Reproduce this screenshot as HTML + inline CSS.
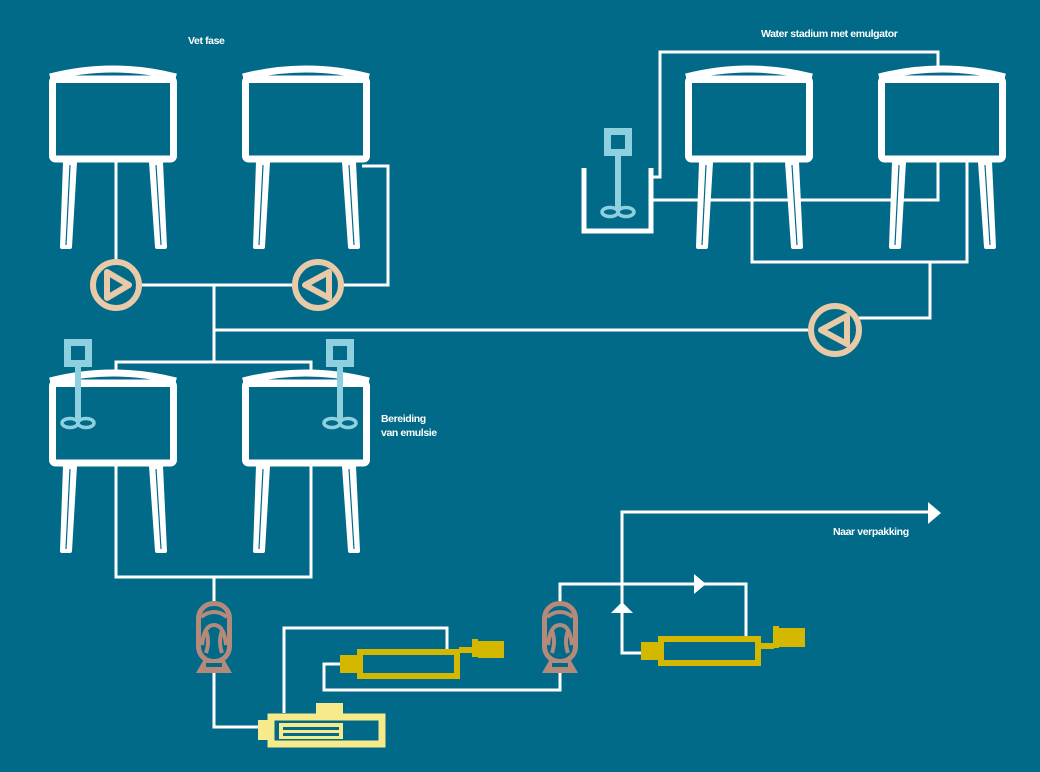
<!DOCTYPE html>
<html><head><meta charset="utf-8"><style>
html,body{margin:0;padding:0;background:#006a88;}
svg{display:block}
text{font-family:"Liberation Sans",sans-serif;font-weight:bold;font-size:10.5px;fill:#fff;letter-spacing:-0.4px}
</style></head><body>
<svg width="1040" height="772" viewBox="0 0 1040 772" xmlns="http://www.w3.org/2000/svg">
<defs>
<g id="tank">
  <path d="M1,10 Q64,-6 127,10" fill="none" stroke="#fff" stroke-width="7"/>
  <path d="M1,10 L1,16 L127,16 L127,10" fill="#fff"/>
  <rect x="3.5" y="12" width="121" height="80" rx="3" fill="none" stroke="#fff" stroke-width="7"/>
  <polygon points="16,95 26,95 21,180 13,180" fill="#fff" stroke="#fff" stroke-width="4" stroke-linejoin="round"/>
  <line x1="21" y1="98" x2="17" y2="178" stroke="#006a88" stroke-width="1.2"/>
  <polygon points="102,95 112,95 116,180 108,180" fill="#fff" stroke="#fff" stroke-width="4" stroke-linejoin="round"/>
  <line x1="107" y1="98" x2="112" y2="178" stroke="#006a88" stroke-width="1.2"/>
</g>
<g id="homog">
  <rect x="2.5" y="2.5" width="31" height="58" rx="15" fill="none" stroke="#b58a7a" stroke-width="5"/>
  <path d="M5,16 Q18,6 31,16 M6,44 Q8,24 18,24 Q28,24 30,44 M10,30 Q14,40 10,52 M26,30 Q22,40 26,52" fill="none" stroke="#b58a7a" stroke-width="4"/>
  <polygon points="8,58 28,58 36,72 0,72" fill="#b58a7a"/>
  <rect x="10" y="62" width="16" height="4" fill="#006a88"/>
</g>
<g id="agit">
  <rect x="3.5" y="3.5" width="21" height="21" fill="none" stroke="#8fd0e0" stroke-width="7"/>
  <rect x="11" y="27" width="6" height="55" fill="#8fd0e0"/>
  <ellipse cx="6" cy="84" rx="8" ry="4.5" fill="none" stroke="#8fd0e0" stroke-width="3.5"/>
  <ellipse cx="22" cy="84" rx="8" ry="4.5" fill="none" stroke="#8fd0e0" stroke-width="3.5"/>
</g>
</defs>

<g fill="none" stroke="#fff" stroke-width="3">
  <path d="M116,158 V263"/>
  <path d="M138,285 H296"/>
  <path d="M340,285 H388 V166 H362"/>
  <path d="M214,285 V362"/>
  <path d="M214,330 H811"/>
  <path d="M857,318 H930 V262"/>
  <path d="M752,157 V262 H967 V157"/>
  <path d="M651,177 H660 V52 H938 V70"/>
  <path d="M651,200 H938 V157"/>
  <path d="M116,374 V362 H311 V374"/>
  <path d="M116,460 V577 H311 V460"/>
  <path d="M214,577 V601"/>
  <path d="M214,672 V727 H260"/>
  <path d="M284,713 V628 H447 V650"/>
  <path d="M340,664 H324 V690 H560 V672"/>
  <path d="M560,602 V584 H746 V636"/>
  <path d="M641,653 H622 V512 H930"/>
</g>
<polygon points="928,502 941,513 928,524" fill="#fff"/>
<polygon points="694,574 706,584 694,594" fill="#fff"/>
<polygon points="611,613 622,602 633,613" fill="#fff"/>

<use href="#tank" x="49" y="67"/>
<use href="#tank" x="242" y="67"/>
<use href="#tank" x="685" y="67"/>
<use href="#tank" x="878" y="67"/>
<use href="#tank" x="49" y="371"/>
<use href="#tank" x="242" y="371"/>

<g fill="none" stroke="#e8c9a8" stroke-width="6" stroke-linejoin="round">
  <circle cx="116" cy="285" r="23"/>
  <polygon points="107,272 129,285 107,298"/>
  <circle cx="318" cy="285" r="23"/>
  <polygon points="329,272 305,285 329,298"/>
  <circle cx="835" cy="330" r="24"/>
  <polygon points="847,316 821,330 847,344"/>
</g>

<path d="M584,168 V231 H651 V168" fill="none" stroke="#fff" stroke-width="5"/>
<use href="#agit" x="604" y="128"/>
<use href="#agit" x="64" y="339"/>
<use href="#agit" x="326" y="339"/>

<use href="#homog" x="196" y="601"/>
<use href="#homog" x="542" y="601"/>

<rect x="316" y="703" width="27" height="12" fill="#f7ea8a"/>
<rect x="258" y="720" width="11" height="20" fill="#f7ea8a"/>
<rect x="271" y="717" width="111" height="27" fill="none" stroke="#f7ea8a" stroke-width="7"/>
<rect x="279" y="723" width="64" height="16" fill="#f7ea8a"/>
<rect x="283" y="727" width="56" height="3" fill="#006a88"/>
<rect x="283" y="733" width="56" height="3" fill="#006a88"/>

<rect x="340" y="655" width="22" height="18" fill="#d4b800"/>
<rect x="360" y="652" width="97" height="24" fill="none" stroke="#d4b800" stroke-width="6"/>
<rect x="459" y="647" width="16" height="6" fill="#d4b800"/>
<rect x="472" y="639" width="6" height="18" fill="#d4b800"/>
<rect x="478" y="641" width="26" height="17" fill="#d4b800"/>

<rect x="641" y="642" width="22" height="18" fill="#d4b800"/>
<rect x="661" y="639" width="97" height="24" fill="none" stroke="#d4b800" stroke-width="6"/>
<rect x="760" y="643" width="14" height="6" fill="#d4b800"/>
<rect x="773" y="626" width="6" height="22" fill="#d4b800"/>
<rect x="779" y="628" width="26" height="19" fill="#d4b800"/>

<text x="188" y="44">Vet fase</text>
<text x="761" y="37">Water stadium met emulgator</text>
<text x="381" y="422">Bereiding</text>
<text x="381" y="436">van emulsie</text>
<text x="833" y="535">Naar verpakking</text>
</svg>
</body></html>
